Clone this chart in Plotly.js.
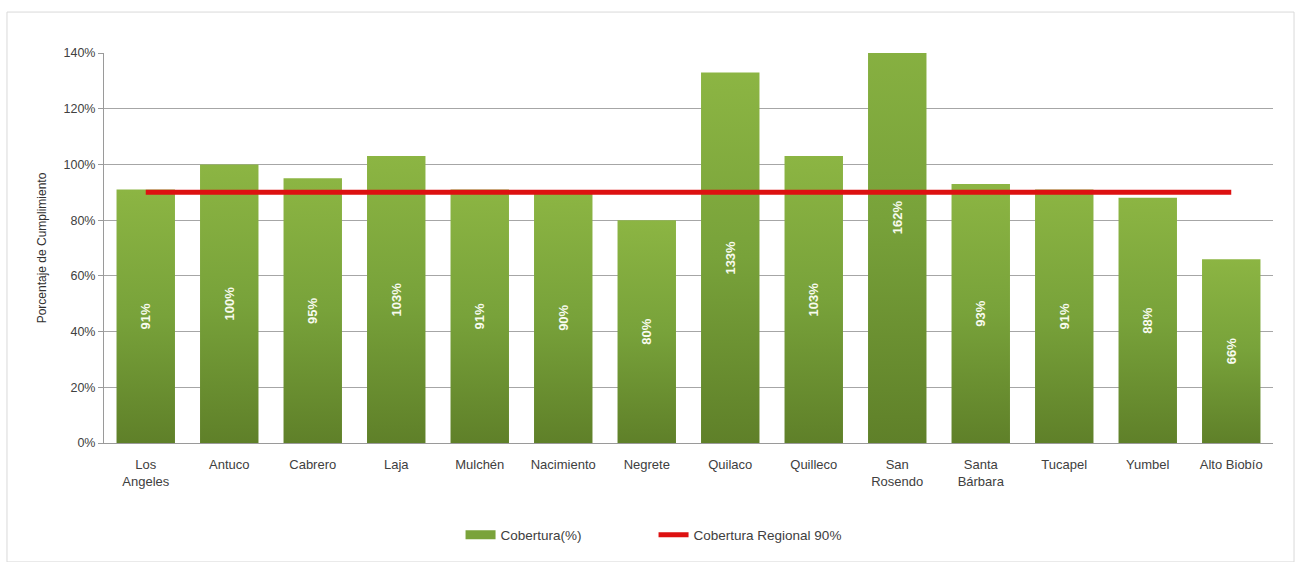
<!DOCTYPE html>
<html>
<head>
<meta charset="utf-8">
<script src="https://cdn.plot.ly/plotly-3.0.1.min.js"></script>
<style>
html,body{margin:0;padding:0;background:#fff;}
#chart{width:1302px;height:562px;}
</style>
</head>
<body>
<div id="chart"></div>
<script>
const comunas = ["Los<br>Angeles","Antuco","Cabrero","Laja","Mulchén","Nacimiento","Negrete","Quilaco","Quilleco","San<br>Rosendo","Santa<br>Bárbara","Tucapel","Yumbel","Alto Biobío"];
const cobertura = [91,100,95,103,91,90,80,133,103,162,93,91,88,66];
const regional = [90,90,90,90,90,90,90,90,90,90,90,90,90,90];
const yTicks = [0,20,40,60,80,100,120,140];

const barTrace = {
  type: 'bar',
  name: 'Cobertura(%)',
  x: comunas,
  y: cobertura,
  text: cobertura.map(v => v + '%'),
  textposition: 'inside',
  insidetextanchor: 'middle',
  textangle: -90,
  textfont: {family: 'Liberation Sans, Arial, sans-serif', size: 13, color: '#f8fbef', weight: 'bold'},
  marker: {color: '#76a03a'},
  width: 0.7,
  cliponaxis: true,
  showlegend: false,
  hoverinfo: 'x+y'
};
// legend-only entry giving the wide green swatch of the original
const barLegend = {
  type: 'scatter', mode: 'lines', name: 'Cobertura(%)',
  x: [null], y: [null],
  line: {color: '#7aa33b', width: 9},
  hoverinfo: 'skip'
};
const lineTrace = {
  type: 'scatter',
  mode: 'lines',
  name: 'Cobertura Regional 90%',
  x: comunas,
  y: regional,
  line: {color: '#dd1111', width: 5}
};

const layout = {
  width: 1302, height: 562,
  margin: {l: 104, r: 29, t: 53, b: 119},
  paper_bgcolor: '#ffffff',
  plot_bgcolor: '#ffffff',
  showlegend: true,
  legend: {orientation: 'h', x: 0.305, xanchor: 'left', y: -0.236, yanchor: 'middle',
           font: {family: 'Liberation Sans, Arial, sans-serif', size: 13.5, color: '#404040'},
           itemwidth: 30, entrywidth: 148, traceorder: 'normal'},
  bargap: 0.3,
  font: {family: 'Liberation Sans, Arial, sans-serif', size: 12, color: '#404040'},
  xaxis: {
    type: 'category',
    tickfont: {size: 13, color: '#404040'},
    ticklabelstandoff: 9,
    showline: true, linecolor: '#9a9a9a', linewidth: 1,
    ticks: '', showgrid: false, fixedrange: true
  },
  yaxis: {
    range: [0, 140],
    tickvals: yTicks,
    ticktext: yTicks.map(v => v + '%'),
    tickfont: {size: 12.5, color: '#404040'},
    showgrid: true, gridcolor: '#a6a6a6', gridwidth: 1,
    showline: true, linecolor: '#9a9a9a', linewidth: 1,
    ticks: 'outside', ticklen: 5, tickcolor: '#9a9a9a',
    zeroline: false,
    title: {text: 'Porcentaje de Cumplimiento', font: {size: 12, color: '#303030'}, standoff: 14},
    fixedrange: true
  },
  shapes: [{
    type: 'rect', xref: 'paper', yref: 'paper',
    x0: -0.083, x1: 1.018, y0: -0.305, y1: 1.105,
    line: {color: '#d9d9d9', width: 1}, fillcolor: 'rgba(0,0,0,0)', layer: 'below'
  }]
};

function applyGradient(gd) {
  const svg = gd.querySelector('svg.main-svg');
  if (!svg) return;
  let defs = svg.querySelector('defs');
  if (!defs) { defs = document.createElementNS('http://www.w3.org/2000/svg','defs'); svg.insertBefore(defs, svg.firstChild); }
  if (!svg.querySelector('#greenGrad')) {
    const g = document.createElementNS('http://www.w3.org/2000/svg','linearGradient');
    g.setAttribute('id','greenGrad');
    g.setAttribute('x1','0'); g.setAttribute('y1','0'); g.setAttribute('x2','0'); g.setAttribute('y2','1');
    [['0','#8cb543'],['0.5','#78a23a'],['1','#5f8029']].forEach(([o,c]) => {
      const s = document.createElementNS('http://www.w3.org/2000/svg','stop');
      s.setAttribute('offset',o); s.setAttribute('stop-color',c);
      g.appendChild(s);
    });
    defs.appendChild(g);
  }
  gd.querySelectorAll('.barlayer .point path').forEach(p => { p.style.fill = 'url(#greenGrad)'; });
}

Plotly.newPlot('chart', [barTrace, barLegend, lineTrace], layout, {displayModeBar: false})
  .then(gd => { applyGradient(gd); gd.on('plotly_afterplot', () => applyGradient(gd)); });
</script>
</body>
</html>
